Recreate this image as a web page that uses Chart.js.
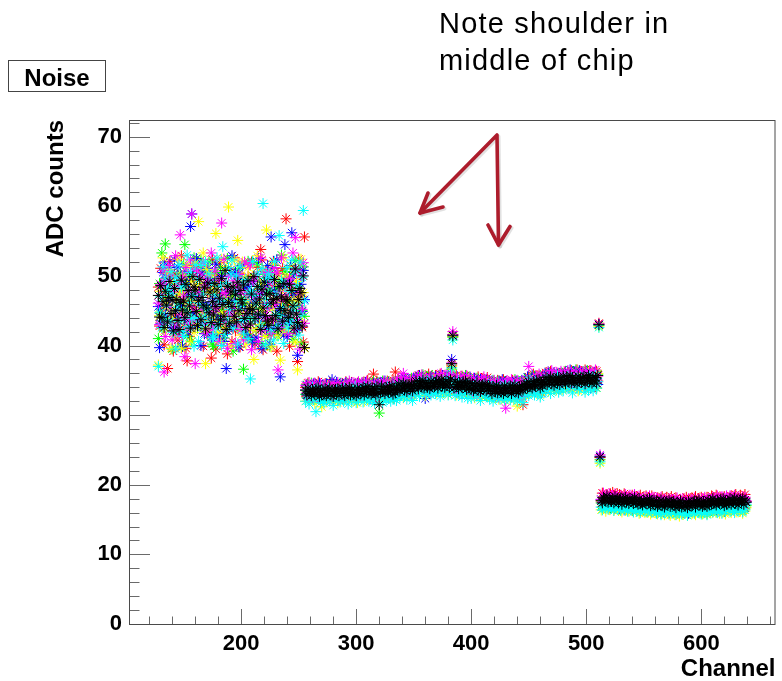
<!DOCTYPE html>
<html>
<head>
<meta charset="utf-8">
<script src="https://cdn.jsdelivr.net/npm/chart.js@4.4.1/dist/chart.umd.min.js"></script>
<style>
  html, body { margin: 0; padding: 0; background: #fff; }
  #wrap { position: relative; width: 782px; height: 681px; overflow: hidden; font-family: 'Liberation Sans', Arial, Helvetica, sans-serif; }
  #c { position: absolute; left: 0; top: 0; }
  #noiseBox { position: absolute; left: 8px; top: 60px; width: 98px; height: 32px; box-sizing: border-box; border: 1px solid #444; }
  #noiseText { position: absolute; left: 8px; top: 66px; width: 98px; text-align: center; font-weight: bold; font-size: 24px; line-height: 24px; color: #000; }
  #note { position: absolute; left: 439px; top: 5px; font-size: 29px; letter-spacing: 1.2px; line-height: 36.7px; color: #000; white-space: nowrap; }
  #arrows { position: absolute; left: 0; top: 0; pointer-events: none; }
</style>
</head>
<body>
<div id="wrap">
  <canvas id="c" width="782" height="681"></canvas>
  <div id="noiseBox"></div>
  <div id="noiseText">Noise</div>
  <div id="note">Note shoulder in<br>middle of chip</div>
  <svg id="arrows" width="782" height="681" viewBox="0 0 782 681">
    <g fill="none" stroke="#a9a9a9" stroke-opacity="0.35" stroke-width="4" stroke-linecap="round" stroke-linejoin="round" transform="translate(1.5,1.5)">
      <polyline points="420,213 497,135 498.5,245"/>
      <polyline points="428,193 420,213 443,207"/>
      <polyline points="488,225 498.5,245 510,226.5"/>
    </g>
    <g fill="none" stroke="#ad1c2c" stroke-width="3.6" stroke-linecap="round" stroke-linejoin="round">
      <polyline points="420,213 497,135 498.5,245"/>
      <polyline points="428,193 420,213 443,207"/>
      <polyline points="488,225 498.5,245 510,226.5"/>
    </g>
  </svg>
</div>
<script>
// ---- data: noise (ADC counts) per channel, channels 128..639 ----
const firstChannel = 128;
const xTickValues = [200, 300, 400, 500, 600];
const yTickValues = [0, 10, 20, 30, 40, 50, 60, 70];

const noiseRed = [
48.4,42.8,51.1,45.1,46.8,40.1,49.6,45.9,36.7,47.9,52.1,43.8,47.2,39.2,50.3,44.5,
50.0,40.8,47.7,42.2,52.9,46.1,43.0,48.8,39.6,37.8,46.6,41.3,49.4,43.4,51.5,45.5,
44.7,47.0,42.6,51.3,44.0,49.7,45.7,39.9,48.2,43.5,50.6,47.4,41.9,49.2,38.2,52.4,
43.6,47.6,39.5,50.1,45.2,51.9,43.2,48.7,41.7,46.0,48.9,44.8,38.8,42.4,46.5,50.9,
40.6,47.2,52.6,42.1,48.0,46.0,50.4,39.8,45.3,51.7,43.9,49.3,41.4,46.9,49.9,44.3,
41.5,52.0,44.4,49.8,40.2,46.4,51.2,42.5,47.8,53.8,52.3,39.4,45.6,50.7,43.1,48.6,
49.6,45.9,41.6,47.9,52.1,43.8,47.2,39.2,50.3,44.5,48.4,42.8,51.1,45.1,46.8,58.2,
49.7,45.7,39.9,48.2,43.5,50.6,47.4,41.9,49.2,37.7,52.4,44.7,47.0,42.6,40.5,55.6,
34.0,32.7,34.6,33.2,33.7,32.3,34.2,33.5,32.9,34.4,33.3,34.8,32.5,33.9,33.0,34.3,
33.1,34.5,32.6,34.1,33.4,34.7,32.8,33.8,32.4,34.0,33.6,32.9,34.4,32.2,34.2,33.3,
34.4,33.3,32.6,34.8,33.7,33.1,34.2,32.7,34.7,33.5,32.9,34.0,32.4,34.6,33.2,33.8,
33.0,34.0,34.6,32.6,34.3,33.5,35.0,33.2,33.8,32.9,34.7,35.9,34.2,32.8,34.9,33.1,
34.0,34.7,33.3,32.6,34.5,34.2,33.0,34.9,33.5,34.4,32.8,33.8,35.0,33.2,36.2,32.9,
33.2,34.8,34.3,33.8,35.3,33.5,34.5,35.0,32.9,34.7,34.0,35.1,33.6,34.3,33.4,35.2,
35.1,33.8,35.7,34.3,34.8,33.4,35.3,34.6,34.0,35.5,34.4,35.9,33.6,35.0,34.1,35.4,
34.3,35.7,33.8,35.3,34.6,35.9,34.0,35.0,33.6,35.2,34.8,34.1,35.6,33.4,35.4,37.2,
41.6,34.2,33.5,35.7,34.6,34.0,35.1,33.6,35.6,34.4,33.8,34.9,33.3,35.5,34.1,34.7,
33.5,34.5,35.1,33.1,34.8,34.0,35.5,33.7,34.3,33.4,35.2,33.9,34.7,33.3,35.4,33.6,
34.1,34.8,33.4,32.7,34.6,34.3,33.1,35.0,33.6,34.5,32.9,33.9,35.1,33.3,34.2,33.0,
32.9,34.5,34.0,33.5,35.0,33.2,34.2,34.7,32.6,34.4,33.7,34.8,33.3,31.5,33.1,34.9,
33.9,34.9,35.5,33.5,35.2,34.4,35.9,34.1,34.7,33.8,35.6,34.3,35.1,33.7,35.8,34.0,
34.7,36.1,34.2,35.7,35.0,36.3,34.4,35.4,34.0,35.6,35.2,34.5,36.0,33.8,35.8,34.9,
35.5,36.2,34.8,34.1,36.0,35.7,34.5,36.4,35.0,35.9,34.3,35.3,36.5,34.7,35.6,34.4,
36.1,35.0,34.3,36.5,35.4,34.8,35.9,34.4,36.4,35.2,34.6,35.7,34.1,36.3,34.9,43.2,
23.9,17.7,18.8,18.0,18.3,17.5,18.6,18.2,17.8,18.7,18.1,18.9,17.6,18.4,17.9,18.7,
17.7,18.6,17.5,18.3,17.9,18.7,17.6,18.2,17.4,18.3,18.1,17.6,18.5,17.3,18.4,17.9,
18.3,17.6,17.2,18.5,17.9,17.5,18.2,17.3,18.4,17.7,17.4,18.0,17.1,18.4,17.6,17.9,
17.2,17.8,18.1,17.0,17.9,17.5,18.3,17.3,17.7,17.1,18.2,17.4,17.9,17.1,18.3,17.3,
17.8,17.0,18.1,17.3,17.6,16.8,17.9,17.5,17.1,18.0,17.4,18.2,16.9,17.7,17.2,18.0,
18.1,17.4,17.0,18.3,17.7,17.3,18.0,17.1,18.2,17.5,17.2,17.8,16.9,18.2,17.4,17.7,
17.5,18.4,17.3,18.1,17.7,18.5,17.4,18.0,17.2,18.1,17.9,17.4,18.3,17.1,18.2,17.7,
17.5,18.1,18.4,17.3,18.2,17.8,18.6,17.6,18.0,17.4,18.5,17.7,18.2,17.4,18.6,17.6
];

const noiseGreen = [
41.0,48.9,44.8,53.3,42.4,46.5,54.6,43.6,47.6,47.1,50.1,45.2,39.5,43.2,48.7,41.7,
42.1,48.0,46.0,50.4,39.8,45.3,51.7,54.5,49.3,41.4,46.9,49.9,44.3,40.6,47.2,52.6,
46.4,51.2,42.5,47.8,43.7,52.3,45.0,45.6,50.7,43.1,48.6,41.5,52.0,44.4,49.8,40.2,
39.9,50.5,46.2,41.6,49.0,43.8,51.2,45.1,50.3,41.1,47.3,42.7,52.5,46.4,43.3,48.4,
47.2,39.2,50.3,44.5,48.4,42.8,51.1,45.1,46.8,49.0,36.6,45.9,41.6,47.9,52.1,43.8,
49.5,40.8,52.0,44.3,47.4,42.2,51.7,44.4,49.3,45.3,40.3,48.6,43.1,50.2,47.8,41.5,
47.9,39.9,50.4,45.6,51.5,43.5,48.3,42.0,41.4,49.2,44.5,53.0,42.8,46.1,50.6,43.9,
49.0,41.8,46.5,50.2,44.0,40.9,47.6,52.2,42.4,48.3,45.7,50.8,40.2,45.0,51.3,44.2,
33.0,34.4,32.5,34.0,33.3,34.6,32.7,33.7,32.3,33.9,33.5,32.8,34.3,32.1,34.1,33.2,
32.7,33.7,34.3,32.3,34.0,33.2,34.7,32.9,33.5,32.6,34.4,33.1,33.9,32.5,34.6,32.8,
32.5,34.1,33.6,33.1,34.6,32.8,33.8,34.3,32.2,34.0,33.3,34.4,32.9,33.6,32.7,34.5,
34.1,32.8,34.7,33.3,33.8,32.4,34.3,33.6,33.0,34.5,33.4,34.9,32.6,34.0,33.1,34.4,
30.3,33.4,32.7,34.9,33.8,33.2,34.3,32.8,34.8,33.6,33.0,34.1,32.5,34.7,33.3,33.9,
34.3,35.0,33.6,32.9,34.8,34.5,33.3,35.2,33.8,34.7,33.1,34.1,35.3,33.5,34.4,33.2,
33.8,34.8,35.4,33.4,35.1,34.3,35.8,34.0,34.6,33.7,35.5,34.2,35.0,33.6,35.7,33.9,
33.6,35.2,34.7,34.2,35.7,33.9,34.9,35.4,33.3,35.1,34.4,35.5,34.0,34.7,33.8,36.6,
41.2,33.6,35.5,34.1,34.6,33.2,35.1,34.4,33.8,35.3,34.2,35.7,33.4,34.8,33.9,35.2,
33.7,35.1,33.2,34.7,34.0,35.3,33.4,34.4,33.0,34.6,34.2,33.5,35.0,32.8,34.8,33.9,
34.6,33.5,32.8,35.0,33.9,33.3,34.4,32.9,34.9,33.7,33.1,34.2,32.6,34.8,33.4,34.0,
33.1,34.1,34.7,32.7,34.4,33.6,35.1,33.3,33.9,33.0,34.8,33.5,34.3,32.9,35.0,33.2,
34.7,35.4,34.0,33.3,35.2,34.9,33.7,35.6,34.2,35.1,33.5,34.5,35.7,33.9,34.8,33.6,
34.0,35.6,35.1,34.6,36.1,34.3,35.3,35.8,33.7,35.5,34.8,35.9,34.4,35.1,34.2,36.0,
35.7,34.4,36.3,34.9,35.4,34.0,35.9,35.2,34.6,36.1,35.0,36.5,34.2,35.6,34.7,36.0,
34.8,36.2,34.3,35.8,35.1,36.4,34.5,35.5,34.1,35.7,35.3,34.6,36.1,33.9,35.9,42.9,
23.6,17.4,17.7,16.6,17.5,17.1,17.9,16.9,17.3,16.7,17.8,17.0,17.5,16.7,17.9,16.9,
17.5,16.8,16.4,17.7,17.1,16.7,17.4,16.5,17.6,16.9,16.6,17.2,16.3,17.6,16.8,17.1,
16.5,17.4,16.3,17.1,16.7,17.5,16.4,17.0,16.2,17.1,16.9,16.4,17.3,16.1,17.2,16.7,
16.9,16.1,17.2,16.4,16.7,15.9,17.0,16.6,16.2,17.1,16.5,17.3,16.0,16.8,16.3,17.1,
16.1,16.7,17.0,15.9,16.8,16.4,17.2,16.2,16.6,16.0,17.1,16.3,16.8,16.0,17.2,16.2,
16.3,17.2,16.1,16.9,16.5,17.3,16.2,16.8,16.0,16.9,16.7,16.2,17.1,15.9,17.0,16.5,
17.1,16.3,17.4,16.6,16.9,16.1,17.2,16.8,16.4,17.3,16.7,17.5,16.2,17.0,16.5,17.3,
17.4,16.7,16.3,17.6,17.0,16.6,17.3,16.4,17.5,16.8,16.5,17.1,16.2,17.5,16.7,17.0
];

const noiseBlue = [
45.6,39.7,43.1,48.6,50.5,52.0,44.4,49.8,48.1,46.4,51.2,42.5,47.8,43.7,52.3,45.0,
42.6,51.3,44.0,49.7,45.7,39.9,48.2,43.5,50.6,47.4,41.9,49.2,57.1,58.9,44.7,47.0,
42.6,52.5,46.4,43.3,48.5,40.0,50.4,46.2,41.7,49.1,43.8,51.1,45.8,49.6,41.2,47.3,
46.8,45.3,51.7,43.9,49.3,41.4,46.9,49.9,44.3,40.6,47.2,36.7,42.1,48.0,46.0,50.4,
52.9,42.8,46.1,50.5,43.2,47.9,39.8,49.7,45.6,51.5,43.6,48.3,42.1,41.4,48.5,45.1,
45.5,46.4,40.5,49.2,46.3,41.2,47.5,52.5,43.4,47.6,39.6,50.7,44.1,48.8,42.4,51.5,
49.8,40.2,55.6,51.2,42.5,47.8,43.7,52.3,45.0,45.6,35.5,43.1,48.6,41.5,54.5,44.4,
41.3,49.4,43.4,51.5,56.2,50.0,47.2,47.7,42.2,38.6,46.1,43.0,48.8,44.9,50.8,46.6,
33.6,34.3,32.9,32.2,34.1,33.8,32.6,34.5,33.1,34.0,32.4,33.4,34.6,32.8,33.7,32.5,
33.9,32.6,34.5,33.1,33.6,32.2,34.1,35.1,32.8,34.3,33.2,34.7,32.4,33.8,32.9,34.2,
34.3,33.2,32.5,34.7,33.6,33.0,34.1,32.6,34.6,33.4,32.8,33.9,32.3,34.5,33.1,33.7,
32.6,34.2,33.7,33.2,34.7,32.9,33.9,34.4,32.3,34.1,33.4,34.5,33.0,33.7,32.8,34.6,
33.3,34.7,32.8,34.3,33.6,34.9,33.0,34.0,32.6,34.2,33.8,33.1,34.6,32.4,34.4,33.5,
33.4,34.4,35.0,33.0,34.7,33.9,35.4,33.6,34.2,33.3,35.1,33.8,34.6,33.2,35.3,33.5,
35.3,34.2,33.5,35.7,34.6,34.0,35.1,33.6,32.4,34.4,33.8,34.9,33.3,35.5,34.1,34.7,
34.8,35.5,34.1,33.4,35.3,35.0,33.8,35.7,34.3,35.2,33.6,34.6,35.8,34.0,34.9,38.0,
41.5,35.0,34.5,34.0,35.5,33.7,34.7,35.2,33.1,34.9,34.2,35.3,33.8,34.5,33.6,35.4,
34.9,33.8,33.1,35.3,34.2,33.6,34.7,33.2,35.2,34.0,33.4,34.5,32.9,35.1,33.7,34.3,
34.3,33.0,34.9,33.5,34.0,32.6,34.5,33.8,33.2,34.7,33.6,35.1,32.8,34.2,33.3,34.6,
34.0,34.7,33.3,32.6,34.5,34.2,33.0,34.9,33.5,34.4,32.8,33.8,35.0,33.2,34.1,32.9,
34.1,35.5,33.6,35.1,34.4,35.7,33.8,34.8,33.4,35.0,34.6,33.9,35.4,33.2,35.2,34.3,
35.8,34.7,34.0,36.2,35.1,34.5,35.6,34.1,36.1,34.9,34.3,35.4,33.8,36.0,34.6,35.2,
34.5,35.5,36.1,34.1,35.8,35.0,36.5,34.7,35.3,34.4,36.2,34.9,35.7,34.3,36.4,34.6,
34.2,35.8,35.3,34.8,36.3,34.5,35.5,36.0,33.9,35.7,35.0,36.1,34.6,35.3,34.4,43.0,
24.1,17.9,16.8,17.6,17.2,18.0,16.9,17.5,16.7,17.6,17.4,16.9,17.8,16.6,17.7,17.2,
17.4,16.6,17.7,16.9,17.2,16.4,17.5,17.1,16.7,17.6,17.0,17.8,16.5,17.3,16.8,17.6,
16.5,17.1,17.4,16.3,17.2,16.8,17.6,16.6,17.0,16.4,17.5,16.7,17.2,16.4,17.6,16.6,
17.2,16.5,16.1,17.4,16.8,16.4,17.1,16.2,17.3,16.6,16.3,16.9,16.0,17.3,16.5,16.8,
16.3,17.2,16.1,16.9,16.5,17.3,16.2,16.8,16.0,16.9,16.7,16.2,17.1,15.9,17.0,16.5,
16.3,16.9,17.2,16.1,17.0,16.6,17.4,16.4,16.8,16.2,17.3,16.5,17.0,16.2,17.4,16.4,
17.4,16.7,16.3,17.6,17.0,16.6,17.3,16.4,17.5,16.8,16.5,17.1,16.2,17.5,16.7,17.0,
17.3,16.5,17.6,16.8,17.1,16.3,17.4,17.0,16.6,17.5,16.9,17.7,16.4,17.2,16.7,17.5
];

const noiseYellow = [
37.2,44.3,47.8,47.2,52.6,42.1,48.0,46.0,50.4,50.9,45.3,39.6,43.9,49.3,41.4,46.9,
47.5,52.4,43.4,47.6,39.6,50.0,44.9,48.0,42.4,51.4,45.5,46.4,40.5,49.2,46.3,41.9,
51.9,43.2,48.7,57.8,46.4,48.9,44.8,53.3,42.4,37.4,50.9,43.6,47.6,48.1,50.1,45.2,
48.2,43.5,56.1,47.4,41.9,49.2,40.4,52.4,44.7,47.0,42.6,51.3,44.0,59.9,45.7,39.9,
47.8,43.7,52.3,45.0,45.6,55.1,43.1,48.6,41.5,52.0,44.4,49.8,40.2,46.4,51.2,42.5,
51.5,45.5,50.0,38.0,47.7,42.2,52.9,46.1,43.0,48.8,45.0,50.8,46.6,41.3,56.6,43.4,
46.0,50.4,39.8,45.3,51.7,43.9,49.3,41.4,46.9,49.9,37.9,46.2,47.2,52.6,42.1,48.0,
50.0,44.8,48.1,42.5,51.4,45.4,46.5,40.5,49.2,36.5,46.3,47.5,52.4,43.5,47.6,39.6,
32.0,33.6,33.1,32.6,34.1,32.3,33.3,33.8,31.7,33.5,32.8,33.9,32.4,33.1,31.2,34.0,
33.8,32.7,32.0,34.2,33.1,32.5,33.6,32.1,34.1,32.9,32.3,33.4,31.8,34.0,32.6,33.2,
32.7,34.1,32.2,33.7,33.0,34.3,32.4,33.4,32.0,33.6,33.2,32.5,34.0,31.8,33.8,32.9,
33.4,34.1,32.7,32.0,33.9,33.6,32.4,34.3,32.9,33.8,32.2,33.2,34.4,32.6,33.5,32.3,
32.6,33.6,34.2,32.2,33.9,33.1,34.6,32.8,33.4,32.5,34.3,33.0,33.8,32.4,34.5,32.7,
34.2,32.9,34.8,33.4,33.9,32.5,34.4,33.7,33.1,34.6,33.5,35.0,32.7,34.1,33.2,34.5,
33.1,34.7,34.2,33.7,35.2,33.4,34.4,34.9,32.8,34.6,33.9,35.0,33.5,34.2,33.3,35.1,
35.0,33.9,33.2,35.4,34.3,33.7,34.8,33.3,35.3,34.1,33.5,34.6,33.0,35.2,33.8,37.0,
41.3,34.3,34.9,32.9,34.6,33.8,35.3,33.5,34.1,33.2,35.0,33.7,34.5,33.1,35.2,33.4,
33.9,34.6,33.2,32.5,34.4,34.1,32.9,34.8,33.4,34.3,32.7,33.7,34.9,33.1,34.0,32.8,
33.0,34.4,32.5,34.0,33.3,34.6,32.7,33.7,32.3,33.9,33.5,32.8,34.3,32.1,34.1,33.2,
33.9,32.6,34.5,33.1,33.6,32.2,34.1,33.4,31.3,34.3,33.2,34.7,32.4,33.8,32.9,34.2,
34.9,33.8,33.1,35.3,34.2,33.6,34.7,33.2,35.2,34.0,33.4,34.5,32.9,35.1,33.7,34.3,
34.8,35.5,34.1,33.4,35.3,35.0,33.8,35.7,34.3,35.2,33.6,34.6,35.8,34.0,34.9,33.7,
34.4,35.8,33.9,35.4,34.7,36.0,34.1,35.1,33.7,35.3,34.9,34.2,35.7,33.5,35.5,34.6,
34.1,35.1,35.7,33.7,35.4,34.6,36.1,34.3,34.9,34.0,35.8,34.5,35.3,33.9,36.0,42.7,
23.1,16.4,17.5,16.7,17.0,16.2,17.3,16.9,16.5,17.4,16.8,17.6,16.3,17.1,16.6,17.4,
16.3,16.9,17.2,16.1,17.0,16.6,17.4,16.4,16.8,16.2,17.3,16.5,17.0,16.2,17.4,16.4,
17.0,16.3,15.9,17.2,16.6,16.2,16.9,16.0,17.1,16.4,16.1,16.7,15.8,17.1,16.3,16.6,
16.0,16.9,15.8,16.6,16.2,17.0,15.9,16.5,15.7,16.6,16.4,15.9,16.8,15.6,16.7,16.2,
16.5,15.7,16.8,16.0,16.3,15.5,16.6,16.2,15.8,16.7,16.1,16.9,15.6,16.4,15.9,16.7,
15.9,16.5,16.8,15.7,16.6,16.2,17.0,16.0,16.4,15.8,16.9,16.1,16.6,15.8,17.0,16.0,
16.2,17.1,16.0,16.8,16.4,17.2,16.1,16.7,15.9,16.8,16.6,16.1,17.0,15.8,16.9,16.4,
17.1,16.4,16.0,17.3,16.7,16.3,17.0,16.1,17.2,16.5,16.2,16.8,15.9,17.2,16.4,16.7
];

const noiseMagenta = [
46.1,43.0,48.8,47.3,50.8,36.2,41.3,49.4,43.4,51.5,45.5,50.0,40.8,47.7,42.2,52.9,
43.1,48.6,41.5,55.9,44.4,49.8,47.0,38.4,51.2,42.5,47.8,43.7,52.3,58.9,45.6,50.7,
37.4,50.9,43.6,47.6,46.9,50.1,45.2,51.9,43.2,48.7,41.7,49.5,48.9,44.8,53.3,42.4,
43.2,50.7,45.4,46.5,40.6,49.3,46.3,57.6,47.5,52.4,43.5,47.6,39.6,50.0,44.8,48.1,
44.4,49.3,45.3,40.3,48.6,43.1,50.2,47.7,42.3,48.9,40.8,52.0,44.3,47.4,42.9,51.6,
51.7,39.4,49.3,47.5,46.9,49.9,44.3,40.6,47.2,52.6,42.1,48.0,46.0,50.4,44.0,45.3,
50.5,46.2,41.7,49.0,43.8,51.2,45.9,50.4,36.5,47.3,42.6,52.6,46.5,43.4,48.5,47.3,
48.7,41.7,49.6,48.9,44.8,53.3,42.4,55.5,50.9,43.6,47.6,39.5,50.1,45.2,51.9,43.2,
34.3,33.2,32.5,34.7,33.6,33.0,34.1,32.6,34.6,33.4,32.8,33.9,32.3,34.5,33.1,33.7,
33.7,34.4,33.0,32.3,34.2,33.9,32.7,34.6,33.2,34.1,32.5,33.5,34.7,32.9,33.8,32.6,
32.9,33.9,34.5,32.5,34.2,33.4,34.9,33.1,33.7,32.8,34.6,33.3,34.1,32.7,34.8,33.0,
33.3,34.7,32.8,34.3,33.6,34.9,33.0,34.0,32.6,34.2,33.8,33.1,34.6,32.4,34.4,33.5,
32.8,34.4,33.9,33.4,34.9,33.1,34.1,34.6,32.5,34.3,33.6,34.7,33.2,33.9,33.0,34.8,
35.0,33.9,33.2,35.4,34.3,36.0,34.8,33.3,35.3,34.1,33.5,34.6,33.0,35.2,33.8,34.4,
34.2,35.6,33.7,35.2,34.5,35.8,33.9,34.9,33.5,35.1,34.7,34.0,35.5,33.3,35.3,34.4,
34.0,35.0,35.6,33.6,35.3,34.5,36.0,34.2,34.8,33.9,35.7,34.4,35.2,33.8,35.9,37.5,
42.0,35.4,34.0,33.3,35.2,34.9,33.7,35.6,34.2,35.1,33.5,34.5,35.7,33.9,34.8,33.6,
34.7,33.4,35.3,33.9,34.4,33.0,34.9,34.2,33.6,35.1,34.0,35.5,33.2,34.6,33.7,35.0,
32.9,34.5,34.0,33.5,35.0,33.2,34.2,34.7,32.6,34.4,33.7,34.8,33.3,34.0,31.0,34.9,
34.7,33.6,32.9,35.1,34.0,33.4,34.5,33.0,35.0,33.8,33.2,34.3,32.7,34.9,33.5,34.1,
35.1,33.8,37.0,34.3,34.8,33.4,35.3,34.6,34.0,35.5,34.4,35.9,33.6,35.0,34.1,35.4,
34.4,35.4,36.0,34.0,35.7,34.9,36.4,34.6,35.2,34.3,36.1,34.8,35.6,34.2,36.3,34.5,
34.3,35.9,35.4,34.9,36.4,34.6,35.6,36.1,34.0,35.8,35.1,36.2,34.7,35.4,34.5,36.3,
35.5,36.2,34.8,34.1,36.0,35.7,34.5,36.4,35.0,35.9,34.3,35.3,36.5,34.7,35.6,43.1,
24.3,17.9,17.5,18.8,18.2,17.8,18.5,17.6,18.7,18.0,17.7,18.3,17.4,18.7,17.9,18.2,
17.5,18.1,18.4,17.3,18.2,17.8,18.6,17.6,18.0,17.4,18.5,17.7,18.2,17.4,18.6,17.6,
18.0,17.2,18.3,17.5,17.8,17.0,18.1,17.7,17.3,18.2,17.6,18.4,17.1,17.9,17.4,18.2,
17.2,18.1,17.0,17.8,17.4,18.2,17.1,17.7,16.9,17.8,17.6,17.1,18.0,16.8,17.9,17.4,
17.9,17.2,16.8,18.1,17.5,17.1,17.8,16.9,18.0,17.3,17.0,17.6,16.7,18.0,17.2,17.5,
17.8,17.0,18.1,17.3,17.6,16.8,17.9,17.5,17.1,18.0,17.4,18.2,16.9,17.7,17.2,18.0,
17.3,17.9,18.2,17.1,18.0,17.6,18.4,17.4,17.8,17.2,18.3,17.5,18.0,17.2,18.4,17.4,
17.5,18.4,17.3,18.1,17.7,18.5,17.4,18.0,17.2,18.1,17.9,17.4,18.3,17.1,18.2,17.7
];

const noiseCyan = [
37.0,44.7,47.0,42.6,51.3,44.0,49.7,45.7,47.9,48.2,43.5,50.6,47.4,41.9,49.2,39.5,
49.8,45.5,51.6,43.5,48.3,42.0,41.3,48.6,45.1,53.0,42.7,46.2,50.5,43.9,47.2,39.9,
51.6,44.0,49.5,40.6,46.0,51.5,42.9,47.4,44.1,52.0,45.4,45.2,50.3,43.4,48.9,41.2,
41.2,47.3,42.5,52.6,46.4,43.3,48.5,40.0,54.2,46.3,41.6,49.0,43.8,51.2,45.2,50.3,
52.3,42.5,47.7,46.3,50.0,40.2,45.6,51.4,43.6,49.0,41.8,46.5,49.5,44.0,41.0,47.5,
35.2,47.9,52.1,43.8,47.2,46.0,50.3,44.5,48.4,42.8,51.1,60.4,46.8,40.1,49.6,45.9,
50.3,47.8,42.3,49.5,40.8,52.1,44.4,47.3,42.9,55.8,44.3,49.4,45.4,40.3,48.5,43.2,
51.2,42.5,47.8,43.7,52.3,45.0,45.6,50.7,43.1,48.6,41.5,52.0,44.4,49.8,59.4,46.4,
32.0,33.0,33.6,31.6,33.3,32.5,34.0,32.2,32.8,30.5,33.7,32.4,33.2,31.8,33.9,32.1,
31.7,33.3,32.8,32.3,33.8,32.0,33.0,33.5,31.4,33.2,32.5,33.6,32.1,32.8,31.9,33.7,
33.3,32.0,33.9,32.5,33.0,31.6,33.5,32.8,32.2,33.7,32.6,34.1,31.8,33.2,32.3,33.6,
33.7,32.6,31.9,34.1,33.0,32.4,33.5,32.0,34.0,32.8,32.2,33.3,31.7,33.9,32.5,33.1,
33.2,33.9,32.5,31.8,33.7,33.4,32.2,34.1,32.7,33.6,32.0,33.0,34.2,32.4,33.3,32.1,
33.0,34.4,32.5,34.0,33.3,34.6,32.7,33.7,32.3,33.9,33.5,32.8,34.3,32.1,34.1,33.2,
33.1,34.1,34.7,32.7,34.4,33.6,35.1,33.3,33.9,33.0,34.8,33.5,34.3,32.9,35.0,33.2,
34.4,33.1,35.0,33.6,34.1,32.7,34.6,33.9,33.3,34.8,33.7,35.2,32.9,34.3,33.4,36.8,
40.8,34.7,32.8,34.3,33.6,34.9,33.0,34.0,32.6,34.2,33.8,33.1,34.6,32.4,34.4,33.5,
32.4,34.0,33.5,33.0,34.5,32.7,33.7,34.2,32.1,33.9,33.2,34.3,32.8,33.5,32.6,34.4,
32.4,33.4,34.0,32.0,33.7,32.9,34.4,32.6,33.2,32.3,34.1,32.8,33.6,32.2,34.3,32.5,
32.7,34.1,32.2,33.7,33.0,34.3,32.4,33.4,32.0,33.6,33.2,32.5,34.0,31.8,33.8,32.9,
34.6,33.5,32.8,35.0,33.9,33.3,34.4,32.9,34.9,33.7,33.1,34.2,32.6,34.8,33.4,34.0,
34.8,33.5,35.4,34.0,34.5,33.1,35.0,34.3,33.7,35.2,34.1,35.6,33.3,34.7,33.8,35.1,
33.5,35.1,34.6,34.1,35.6,33.8,34.8,35.3,33.2,35.0,34.3,35.4,33.9,34.6,33.7,35.5,
34.7,35.4,34.0,33.3,35.2,34.9,33.7,35.6,34.2,35.1,33.5,34.5,35.7,33.9,34.8,42.6,
23.3,16.8,16.4,17.7,17.1,16.7,17.4,16.5,17.6,16.9,16.6,17.2,16.3,17.6,16.8,17.1,
16.5,17.4,16.3,17.1,16.7,17.5,16.4,17.0,16.2,17.1,16.9,16.4,17.3,16.1,17.2,16.7,
16.2,16.8,17.1,16.0,16.9,16.5,17.3,16.3,16.7,16.1,17.2,16.4,16.9,16.1,17.3,16.3,
16.7,15.9,17.0,16.2,16.5,15.7,16.8,16.4,16.0,16.9,16.3,17.1,15.8,16.6,16.1,16.9,
16.8,16.1,15.7,17.0,16.4,16.0,16.7,15.8,16.9,16.2,15.9,16.5,15.6,16.9,16.1,16.4,
16.1,17.0,15.9,16.7,16.3,17.1,16.0,16.6,15.8,16.7,16.5,16.0,16.9,15.7,16.8,16.3,
16.3,17.0,16.1,16.9,16.5,17.2,16.0,16.8,16.4,17.1,15.9,16.7,17.3,16.2,16.6,16.9,
17.0,16.2,17.3,16.5,16.8,16.0,17.1,16.7,16.3,17.2,16.6,17.4,16.1,16.9,16.4,17.2
];

const noiseBlack = [
47.2,44.1,48.6,44.0,46.3,42.6,47.8,45.8,43.4,46.9,49.2,44.6,46.5,42.1,48.2,45.0,
46.6,43.6,42.3,46.2,49.4,45.1,46.4,44.0,48.8,44.7,47.9,45.7,42.5,47.0,49.9,48.4,
48.0,44.9,42.9,46.5,49.5,43.7,46.9,45.8,48.3,42.4,45.4,49.0,44.7,47.7,43.3,46.3,
44.4,48.9,45.6,48.0,43.0,46.8,43.7,49.6,45.9,44.2,50.8,42.3,48.5,46.2,43.2,47.7,
45.6,48.4,44.2,47.3,43.4,49.1,45.0,47.9,46.6,46.1,48.7,43.9,42.6,44.6,49.3,45.3,
43.1,47.4,45.2,49.9,43.9,46.1,48.5,44.5,46.7,42.3,48.1,45.4,49.1,44.3,47.3,43.5,
42.9,47.5,46.1,43.8,46.6,49.5,44.3,46.8,42.4,48.5,45.3,47.0,43.5,48.9,45.0,46.6,
46.4,44.0,48.8,44.7,47.9,45.7,42.5,51.0,44.5,43.3,46.6,48.2,47.6,42.8,50.0,39.7,
33.6,32.9,33.9,33.1,33.4,32.8,33.7,33.3,33.0,33.8,33.2,33.9,32.7,33.5,32.9,33.6,
33.0,33.8,32.8,33.5,33.2,33.9,32.9,33.6,32.7,33.4,33.7,33.1,33.8,32.8,33.5,33.2,
33.9,33.2,32.8,33.8,33.5,33.1,34.0,32.9,33.7,33.3,33.0,33.6,32.8,33.9,33.2,33.5,
33.1,33.7,34.0,32.9,33.8,33.4,34.1,33.2,33.6,33.0,33.9,33.3,33.8,33.0,34.1,33.2,
31.5,33.2,34.2,33.4,33.7,33.1,34.0,33.6,33.3,34.1,33.5,34.2,33.0,33.8,33.2,33.9,
33.7,34.5,33.5,34.2,33.9,34.6,33.6,34.3,33.4,34.1,34.4,33.8,34.5,33.5,34.2,33.9,
34.9,34.2,33.8,34.8,34.5,34.1,35.0,33.9,34.7,34.3,34.0,34.6,33.8,34.9,34.2,34.5,
34.1,34.7,35.0,33.9,34.8,34.4,35.1,34.2,34.6,34.0,34.9,34.3,34.8,34.0,35.1,37.4,
41.4,33.9,34.9,34.1,34.4,33.8,34.7,34.3,34.0,34.8,34.2,34.9,33.7,34.5,33.9,34.6,
33.7,34.5,33.5,34.2,33.9,34.6,33.6,34.3,33.4,34.1,34.4,33.8,34.5,33.5,34.2,33.9,
34.2,33.5,33.1,34.1,33.8,33.4,34.3,33.2,34.0,33.6,33.3,33.9,33.1,34.2,33.5,33.8,
33.3,33.9,34.2,33.1,34.0,33.6,34.3,33.4,33.8,33.2,34.1,33.7,34.2,33.6,34.4,33.9,
34.5,33.9,34.8,34.1,34.4,33.9,34.8,34.4,34.2,35.0,34.4,35.1,33.9,34.7,34.2,34.9,
34.6,35.4,34.4,35.1,34.8,35.5,34.5,35.2,34.3,35.0,35.3,34.7,35.4,34.4,35.1,34.8,
35.6,34.9,34.5,35.5,35.2,34.8,35.7,34.6,35.4,35.0,34.7,35.3,34.5,35.6,34.9,35.2,
34.7,35.3,35.6,34.5,35.4,35.0,35.7,34.8,35.2,34.6,35.5,34.9,35.4,34.6,35.7,43.0,
24.0,17.7,17.4,18.2,18.0,17.7,18.4,17.5,18.1,17.8,17.6,18.0,17.4,18.3,17.7,18.0,
17.4,17.9,18.1,17.2,18.0,17.6,18.2,17.5,17.8,17.3,18.0,17.6,17.9,17.3,18.2,17.5,
17.7,17.2,18.0,17.3,17.6,17.1,17.8,17.5,17.3,17.9,17.4,18.0,17.0,17.7,17.2,17.7,
17.1,17.7,16.9,17.5,17.2,17.8,17.0,17.5,16.8,17.4,17.6,17.2,17.7,16.9,17.5,17.2,
17.6,17.0,16.7,17.5,17.3,17.0,17.7,16.8,17.4,17.1,16.9,17.4,16.7,17.6,17.0,17.3,
17.0,17.5,17.7,16.8,17.6,17.2,17.8,17.1,17.4,16.9,17.6,17.1,17.5,16.9,17.8,17.1,
17.7,17.2,18.0,17.3,17.6,17.1,17.8,17.5,17.3,17.9,17.4,18.0,17.0,17.7,17.2,17.7,
17.4,18.0,17.2,17.8,17.5,18.1,17.3,17.8,17.1,17.7,17.9,17.5,18.0,17.2,17.8,17.5
];

// ---- chart ----
const FONT = "'Liberation Sans', Arial, Helvetica, sans-serif";
Chart.defaults.font.family = FONT;

function toPoints(values) {
  return values.map((v, i) => ({ x: firstChannel + i, y: v }));
}

const seriesDefs = [
  { label: 'black',   values: noiseBlack,   color: '#000000', order: 0 },
  { label: 'cyan',    values: noiseCyan,    color: '#00ffff', order: 1 },
  { label: 'magenta', values: noiseMagenta, color: '#ff00ff', order: 2 },
  { label: 'yellow',  values: noiseYellow,  color: '#ffff00', order: 3 },
  { label: 'blue',    values: noiseBlue,    color: '#0000ff', order: 4 },
  { label: 'green',   values: noiseGreen,   color: '#00ff00', order: 5 },
  { label: 'red',     values: noiseRed,     color: '#ff0000', order: 6 }
];

const datasets = seriesDefs.map(s => ({
  label: s.label,
  data: toPoints(s.values),
  order: s.order,
  showLine: false,
  pointStyle: 'star',
  pointRadius: 5.5,
  pointBorderWidth: 1,
  borderColor: s.color,
  backgroundColor: s.color,
  pointHoverRadius: 5.5
}));

const framePlugin = {
  id: 'rootFrame',
  beforeDatasetsDraw(chart) {
    const { ctx, chartArea: a, scales } = chart;
    const xs = scales.x, ys = scales.y;
    ctx.save();
    ctx.strokeStyle = '#6a6a6a';
    ctx.lineWidth = 1;
    ctx.beginPath();
    for (let v = 0; v <= 72; v += 2) {
      const py = Math.round(ys.getPixelForValue(v)) + 0.5;
      const len = (v % 10 === 0) ? 21 : 10.5;
      ctx.moveTo(a.left, py);
      ctx.lineTo(a.left + len, py);
    }
    for (let v = 120; v <= 660; v += 20) {
      const px = Math.round(xs.getPixelForValue(v)) + 0.5;
      const len = (v % 100 === 0) ? 15 : 7.5;
      ctx.moveTo(px, a.bottom);
      ctx.lineTo(px, a.bottom - len);
    }
    ctx.stroke();
    ctx.strokeStyle = '#4a4a4a';
    ctx.strokeRect(a.left + 0.5, a.top + 0.5, a.right - a.left - 1, a.bottom - a.top);
    ctx.restore();
  }
};

const tickFont = { family: FONT, size: 22, weight: 'bold' };
const titleFont = { family: FONT, size: 24, weight: 'bold', lineHeight: 1 };

new Chart(document.getElementById('c'), {
  type: 'scatter',
  data: { datasets },
  options: {
    responsive: false,
    animation: false,
    events: [],
    layout: { padding: { left: 0, top: 120, right: 4, bottom: 0 } },
    plugins: {
      legend: { display: false },
      tooltip: { enabled: false },
      title: { display: false }
    },
    scales: {
      x: {
        type: 'linear',
        min: 102.45,
        max: 664.55,
        grid: { display: false, drawTicks: false },
        border: { display: false },
        afterBuildTicks: s => { s.ticks = xTickValues.map(v => ({ value: v })); },
        afterFit: s => { s.height = 57; },
        ticks: { font: tickFont, color: '#000', padding: 7, maxRotation: 0, autoSkip: false },
        title: { display: true, text: 'Channel', align: 'end', color: '#000', font: titleFont, padding: 0 }
      },
      y: {
        type: 'linear',
        min: 0,
        max: 72.4,
        grid: { display: false, drawTicks: false },
        border: { display: false },
        afterBuildTicks: s => { s.ticks = yTickValues.map(v => ({ value: v })); },
        afterFit: s => { s.width = 129; },
        ticks: { font: tickFont, color: '#000', padding: 7, autoSkip: false },
        title: { display: true, text: 'ADC counts', align: 'end', color: '#000', font: titleFont, padding: { top: 44, bottom: 0 } }
      }
    }
  },
  plugins: [framePlugin]
});
</script>
</body>
</html>
